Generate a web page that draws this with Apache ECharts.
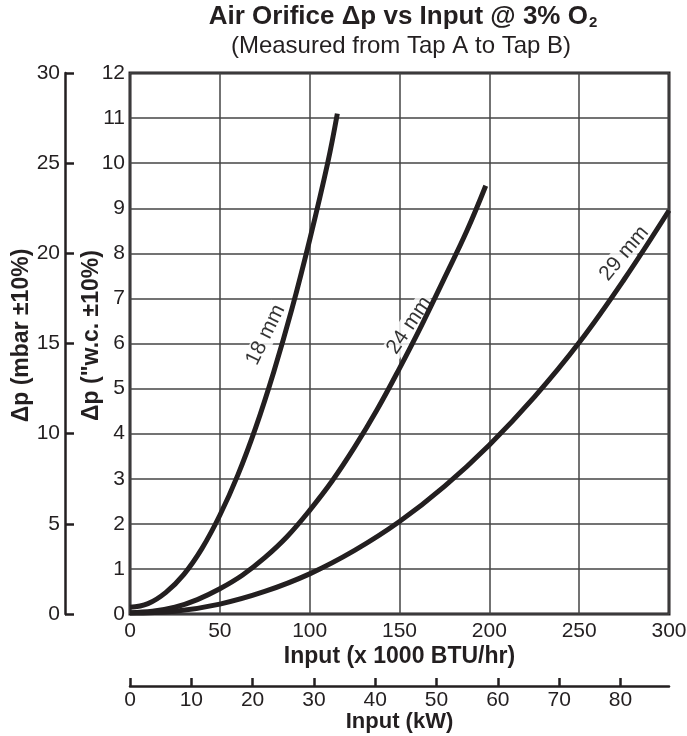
<!DOCTYPE html>
<html>
<head>
<meta charset="utf-8">
<script src="https://cdn.jsdelivr.net/npm/echarts@6/dist/echarts.min.js"></script>
<style>
  html, body { margin: 0; padding: 0; background: #fff; }
  #chart { width: 687px; height: 736px; }
</style>
</head>
<body>
<div id="chart"></div>
<script>
// values: [input x1000 BTU/hr, dp "w.c.]
var curve18 = [[0, 0.15], [10, 0.23], [20, 0.48], [30, 0.88], [40, 1.45], [50, 2.19], [60, 3.08], [70, 4.14], [80, 5.37], [90, 6.75], [100, 8.3], [110, 10.0], [115.4, 11.1]];
var curve24 = [[0, 0.03], [12.5, 0.06], [25, 0.15], [37.5, 0.32], [50, 0.56], [62.5, 0.86], [75, 1.25], [87.5, 1.72], [100, 2.3], [112.5, 2.95], [125, 3.7], [137.5, 4.53], [150, 5.45], [162.5, 6.42], [175, 7.45], [187.5, 8.5], [198, 9.5]];
var curve29 = [[0, 0.02], [25, 0.06], [50, 0.22], [75, 0.5], [100, 0.89], [125, 1.41], [150, 2.05], [175, 2.83], [200, 3.75], [225, 4.81], [250, 6.02], [275, 7.42], [300, 8.95]];
var curveNames = ["18 mm", "24 mm", "29 mm"];
var labelSpots = [[75.5, 6.19], [155.5, 6.4], [275, 8.0]];
var labelAngles = [64, 56, 50];
var kwTicks = [0, 10, 20, 30, 40, 50, 60, 70, 80];
var kwMax = 300 / 3.41214; // 300 kBTU/hr in kW

var ink = "#231f20";
var font = "Liberation Sans, Arial, Helvetica, sans-serif";

var myChart = echarts.init(document.getElementById("chart"));

var series = [];
[curve18, curve24, curve29].forEach(function (c) {
  series.push({
    type: "line",
    data: c,
    smooth: 0.4,
    symbol: "none",
    z: 3,
    lineStyle: { color: ink, width: 5 }
  });
});
// curve name labels
labelSpots.forEach(function (p, i) {
  series.push({
    type: "scatter",
    data: [p],
    symbolSize: 1,
    itemStyle: { color: "rgba(0,0,0,0)" },
    silent: true,
    z: 2,
    label: {
      show: true,
      position: "inside",
      formatter: curveNames[i],
      rotate: labelAngles[i],
      fontSize: 21,
      fontFamily: font,
      color: "#000",
      textBorderWidth: 0,
      backgroundColor: "#fff",
      padding: [0, 2]
    }
  });
});

var option = {
  animation: false,
  backgroundColor: "#fff",
  graphic: [
    {
      type: "text",
      x: 403, y: 4,
      style: {
        text: "Air Orifice \u0394p vs Input @ 3% O{sub|2}",
        rich: { sub: { fontSize: 15, fontWeight: "bold", padding: [11, 0, 0, 1], fill: ink, fontFamily: font } },
        fontSize: 26, fontWeight: "bold", fontFamily: font,
        fill: ink, textAlign: "center", textVerticalAlign: "top"
      }
    },
    {
      type: "text",
      x: 401, y: 34,
      style: {
        text: "(Measured from Tap A to Tap B)",
        fontSize: 24, fontFamily: font,
        fill: ink, textAlign: "center", textVerticalAlign: "top"
      }
    }
  ],
  grid: {
    left: 130, right: 18, top: 73, bottom: 122,
    outerBoundsMode: "none",
    show: true, borderColor: ink, borderWidth: 3
  },
  xAxis: [
    {
      type: "value", min: 0, max: 300, interval: 50,
      position: "bottom",
      axisLine: { show: false },
      axisTick: { show: false },
      splitLine: { lineStyle: { color: "#444", width: 1.5 } },
      axisLabel: { color: ink, fontSize: 21, fontFamily: font, margin: 7 },
      name: "Input (x 1000 BTU/hr)",
      nameLocation: "middle",
      nameGap: 31,
      nameMoveOverlap: false,
      nameTextStyle: { color: ink, fontSize: 23, fontWeight: "bold", fontFamily: font }
    },
    {
      type: "value", min: 0, max: kwMax,
      position: "bottom", offset: 72,
      axisLine: { show: true, onZero: false, lineStyle: { color: ink, width: 2.5 } },
      axisTick: { show: true, inside: true, length: 8, lineStyle: { color: ink, width: 2.5 }, customValues: kwTicks },
      splitLine: { show: false },
      axisLabel: { color: ink, fontSize: 21, fontFamily: font, margin: 4, customValues: kwTicks },
      name: "Input (kW)",
      nameLocation: "middle",
      nameGap: 25,
      nameMoveOverlap: false,
      nameTextStyle: { color: ink, fontSize: 22, fontWeight: "bold", fontFamily: font }
    }
  ],
  yAxis: [
    {
      type: "value", min: 0, max: 12, interval: 1,
      position: "left",
      axisLine: { show: false },
      axisTick: { show: false },
      splitLine: { lineStyle: { color: "#444", width: 1.5 } },
      axisLabel: { color: ink, fontSize: 21, fontFamily: font, margin: 5 },
      name: "\u0394p (\"w.c. \u00b110%)",
      nameLocation: "middle",
      nameRotate: 90,
      nameGap: 27,
      nameMoveOverlap: false,
      nameTextStyle: { color: ink, fontSize: 23, fontWeight: "bold", fontFamily: font, padding: [0, 0, 0, 16] }
    },
    {
      type: "value", min: 0, max: 30, interval: 5,
      position: "left", offset: 65,
      axisLine: { show: true, onZero: false, lineStyle: { color: ink, width: 2.5 } },
      axisTick: { show: true, inside: true, length: 9, lineStyle: { color: ink, width: 2.5 } },
      splitLine: { show: false },
      axisLabel: { color: ink, fontSize: 21, fontFamily: font, margin: 5 },
      name: "\u0394p (mbar \u00b110%)",
      nameLocation: "middle",
      nameRotate: 90,
      nameGap: 32,
      nameMoveOverlap: false,
      nameTextStyle: { color: ink, fontSize: 23, fontWeight: "bold", fontFamily: font, padding: [0, 0, 0, 16] }
    }
  ],
  series: series
};
myChart.setOption(option);
</script>
</body>
</html>
